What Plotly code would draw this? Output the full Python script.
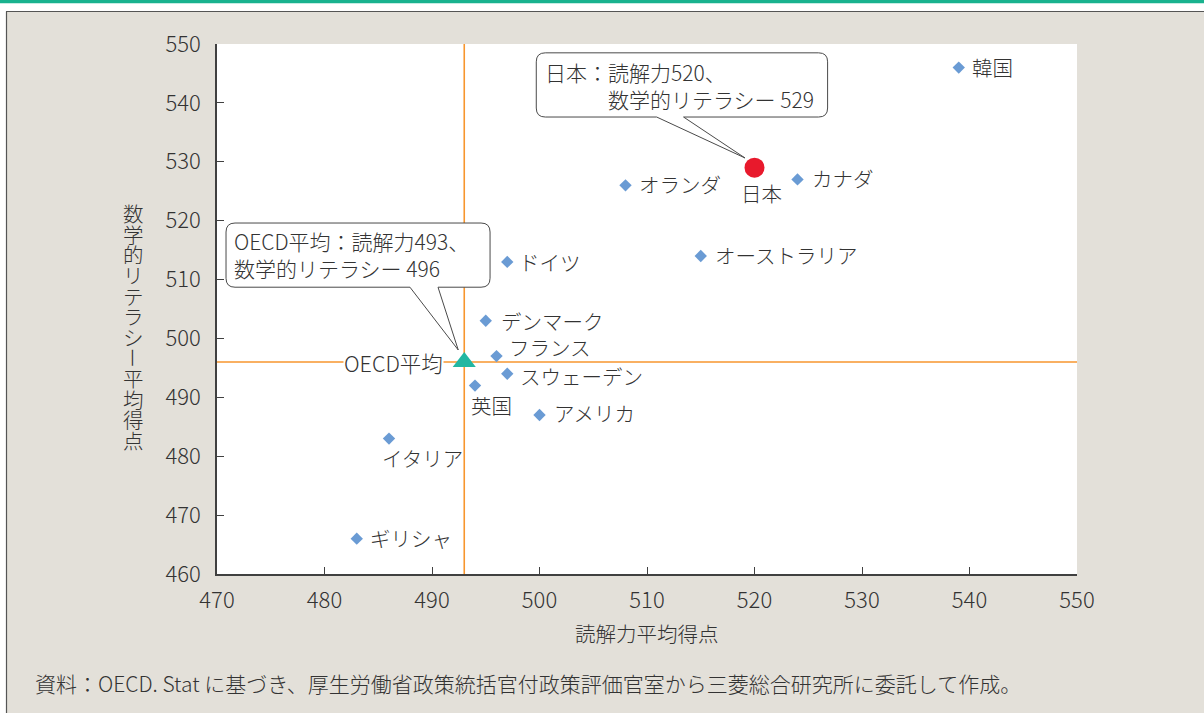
import plotly.graph_objects as go

# ---- data -------------------------------------------------------------
countries = ["韓国", "日本", "オランダ", "カナダ", "オーストラリア", "ドイツ",
             "デンマーク", "フランス", "スウェーデン", "英国", "アメリカ",
             "イタリア", "ギリシャ"]
reading = [539, 520, 508, 524, 515, 497, 495, 496, 497, 494, 500, 486, 483]
math = [546, 529, 526, 527, 514, 513, 503, 497, 494, 492, 487, 483, 466]

oecd_name = "OECD平均"
oecd_reading = 493
oecd_math = 496

highlight = "日本"

x_ticks = [470, 480, 490, 500, 510, 520, 530, 540, 550]
y_ticks = [460, 470, 480, 490, 500, 510, 520, 530, 540, 550]

x_title = "読解力平均得点"
y_title = "数学的リテラシー平均得点"
source_note = "資料：OECD. Stat に基づき、厚生労働省政策統括官付政策評価官室から三菱総合研究所に委託して作成。"

# ---- styling ----------------------------------------------------------
W, H = 1204, 713
M_L, M_R, M_T, M_B = 217, 127, 44, 139
PW, PH = W - M_L - M_R, H - M_T - M_B
X_RANGE = (470, 550)
Y_RANGE = (460, 550)
PX_X = PW / (X_RANGE[1] - X_RANGE[0])   # pixels per x unit
PX_Y = PH / (Y_RANGE[1] - Y_RANGE[0])   # pixels per y unit

FONT = "Noto Sans CJK JP"
WEIGHT = 300
TXT = "#333333"
AXIS = "#404040"
PANEL = "#e3e0d9"
GREEN = "#19b28e"
ORANGE = "#f7962e"
BLUE = "#6a9bd4"
RED = "#e8192c"
TEAL = "#22b7a2"
LABEL_SIZE = 20.5

# label placement: (anchor, dx px, dy px) relative to the marker, dy down
label_pos = {
    "韓国": ("left", 11, -1),
    "日本": ("center", 7, 25),
    "オランダ": ("left", 11, -1),
    "カナダ": ("left", 12, -1),
    "オーストラリア": ("left", 12, -1),
    "ドイツ": ("left", 10, 0),
    "デンマーク": ("left", 13, 0),
    "フランス": ("left", 10, -9),
    "スウェーデン": ("left", 11, 2),
    "英国": ("left", -6, 19),
    "アメリカ": ("left", 12, -2),
    "イタリア": ("left", -9, 19),
    "ギリシャ": ("left", 11, -1),
}


def px2p_x(px):
    return (px - M_L) / PW


def px2p_y(py):
    return (H - M_B - py) / PH


def callout_path(x0, x1, y0, y1, b0, b1, tip, r_px=9):
    """Rounded box (data coords) with a wedge pointer from its bottom edge."""
    rx, ry = r_px / PX_X, r_px / PX_Y
    tx, ty = tip
    return (f"M{x0 + rx},{y1} L{x1 - rx},{y1} Q{x1},{y1} {x1},{y1 - ry} "
            f"L{x1},{y0 + ry} Q{x1},{y0} {x1 - rx},{y0} "
            f"L{b1},{y0} L{tx},{ty} L{b0},{y0} "
            f"L{x0 + rx},{y0} Q{x0},{y0} {x0},{y0 + ry} "
            f"L{x0},{y1 - ry} Q{x0},{y1} {x0 + rx},{y1} Z")


fig = go.Figure()

others = [i for i, c in enumerate(countries) if c != highlight]
hi = countries.index(highlight)

fig.add_trace(go.Scatter(
    x=[reading[i] for i in others], y=[math[i] for i in others],
    mode="markers", marker=dict(symbol="diamond", size=9.5, color=BLUE),
    hoverinfo="skip", showlegend=False))
fig.add_trace(go.Scatter(
    x=[reading[hi]], y=[math[hi]], mode="markers",
    marker=dict(symbol="circle", size=20, color=RED),
    hoverinfo="skip", showlegend=False))
fig.add_trace(go.Scatter(
    x=[oecd_reading], y=[oecd_math], mode="markers",
    marker=dict(symbol="triangle-up", size=20, color=TEAL),
    hoverinfo="skip", showlegend=False))

shapes = []
# OECD average reference lines
shapes.append(dict(type="line", xref="x", yref="y", layer="below",
                   x0=oecd_reading, x1=oecd_reading, y0=Y_RANGE[0], y1=Y_RANGE[1],
                   line=dict(color=ORANGE, width=1.6)))
shapes.append(dict(type="line", xref="x", yref="y", layer="below",
                   x0=X_RANGE[0], x1=X_RANGE[1], y0=oecd_math, y1=oecd_math,
                   line=dict(color=ORANGE, width=1.6)))

# callout boxes
jp_tip = (reading[hi] - 9.5 / PX_X, math[hi] + 9.7 / PX_Y)
shapes.append(dict(type="path", xref="x", yref="y", layer="above",
                   path=callout_path(499.7, 526.8, 537.6, 548.5, 510.9, 513.4, jp_tip),
                   fillcolor="white", line=dict(color="#4a4a4a", width=1)))
oecd_tip = (oecd_reading - 6 / PX_X, oecd_math + 12 / PX_Y)
shapes.append(dict(type="path", xref="x", yref="y", layer="above",
                   path=callout_path(470.84, 495.4, 508.7, 519.6, 487.95, 490.56, oecd_tip),
                   fillcolor="white", line=dict(color="#4a4a4a", width=1)))

# page frame: top green rule, white gap, panel border
big = 0.05
shapes.append(dict(type="rect", xref="paper", yref="paper", layer="above",
                   x0=px2p_x(0) - big, x1=px2p_x(W) + big, y0=px2p_y(11), y1=px2p_y(0) + big,
                   fillcolor="white", line=dict(width=0)))
shapes.append(dict(type="rect", xref="paper", yref="paper", layer="above",
                   x0=px2p_x(0) - big, x1=px2p_x(6), y0=px2p_y(H) - big, y1=px2p_y(0) + big,
                   fillcolor="white", line=dict(width=0)))
shapes.append(dict(type="rect", xref="paper", yref="paper", layer="above",
                   x0=px2p_x(0) - big, x1=px2p_x(W) + big, y0=px2p_y(3.3), y1=px2p_y(0) + big,
                   fillcolor=GREEN, line=dict(width=0)))
shapes.append(dict(type="line", xref="paper", yref="paper", layer="above",
                   x0=px2p_x(6), x1=px2p_x(W) + big, y0=px2p_y(11.5), y1=px2p_y(11.5),
                   line=dict(color="#555555", width=1.2)))
shapes.append(dict(type="line", xref="paper", yref="paper", layer="above",
                   x0=px2p_x(6.5), x1=px2p_x(6.5), y0=px2p_y(H) - big, y1=px2p_y(11.5),
                   line=dict(color="#555555", width=1.2)))

annotations = []
lab_font = dict(family=FONT, size=LABEL_SIZE, color=TXT, weight=WEIGHT)
for c, xv, yv in zip(countries, reading, math):
    anchor, dx, dy = label_pos[c]
    annotations.append(dict(x=xv, y=yv, xref="x", yref="y", text=c, showarrow=False,
                            xanchor=anchor, yanchor="middle", xshift=dx, yshift=-dy,
                            font=lab_font))
annotations.append(dict(x=oecd_reading, y=oecd_math, xref="x", yref="y", text=oecd_name,
                        showarrow=False, xanchor="right", yanchor="middle",
                        xshift=-20, yshift=0, bgcolor="white", borderpad=0,
                        font=dict(family=FONT, size=21.5, color=TXT, weight=WEIGHT)))

# callout texts
annotations.append(dict(x=500.33, y=542.9, xref="x", yref="y", showarrow=False,
                        xanchor="left", yanchor="middle", align="left",
                        text=f"{highlight}：読解力{reading[hi]}、<br>　　　数学的リテラシー {math[hi]}",
                        font=dict(family=FONT, size=21, color=TXT, weight=WEIGHT)))
annotations.append(dict(x=471.4, y=514.3, xref="x", yref="y", showarrow=False,
                        xanchor="left", yanchor="middle", align="left",
                        text=f"{oecd_name}：読解力{oecd_reading}、<br>数学的リテラシー {oecd_math}",
                        font=dict(family=FONT, size=21, color=TXT, weight=WEIGHT)))

# axis titles and source note
annotations.append(dict(x=0.5, y=px2p_y(633), xref="paper", yref="paper", text=x_title,
                        showarrow=False, xanchor="center", yanchor="middle", font=lab_font))
step = 20.6
n = len(y_title)
for i, ch in enumerate(y_title):
    py = 326.5 + (i - (n - 1) / 2) * step
    annotations.append(dict(x=px2p_x(133), y=px2p_y(py), xref="paper", yref="paper",
                            text=ch, showarrow=False, xanchor="center", yanchor="middle",
                            textangle=90 if ch == "ー" else 0, borderpad=0, font=lab_font))
annotations.append(dict(x=px2p_x(33), y=px2p_y(683), xref="paper", yref="paper",
                        text=source_note, showarrow=False, xanchor="left", yanchor="middle",
                        font=dict(family=FONT, size=21, color=TXT, weight=WEIGHT)))

tick_font = dict(family=FONT, size=22, color=TXT, weight=WEIGHT)
fig.update_layout(
    width=W, height=H,
    margin=dict(l=M_L, r=M_R, t=M_T, b=M_B, pad=0),
    paper_bgcolor=PANEL, plot_bgcolor="white",
    shapes=shapes, annotations=annotations,
    xaxis=dict(range=list(X_RANGE), tickvals=x_ticks, ticks="inside", ticklen=7,
               tickcolor=AXIS, tickwidth=1.2, showline=True, linecolor=AXIS, linewidth=1.5,
               showgrid=False, zeroline=False, tickfont=tick_font, ticklabelstandoff=6,
               fixedrange=True),
    yaxis=dict(range=list(Y_RANGE), tickvals=y_ticks, ticks="inside", ticklen=7,
               tickcolor=AXIS, tickwidth=1.2, showline=True, linecolor=AXIS, linewidth=1.5,
               showgrid=False, zeroline=False, tickfont=tick_font, ticklabelstandoff=10,
               fixedrange=True),
    showlegend=False,
)

fig.write_html("out.html")
